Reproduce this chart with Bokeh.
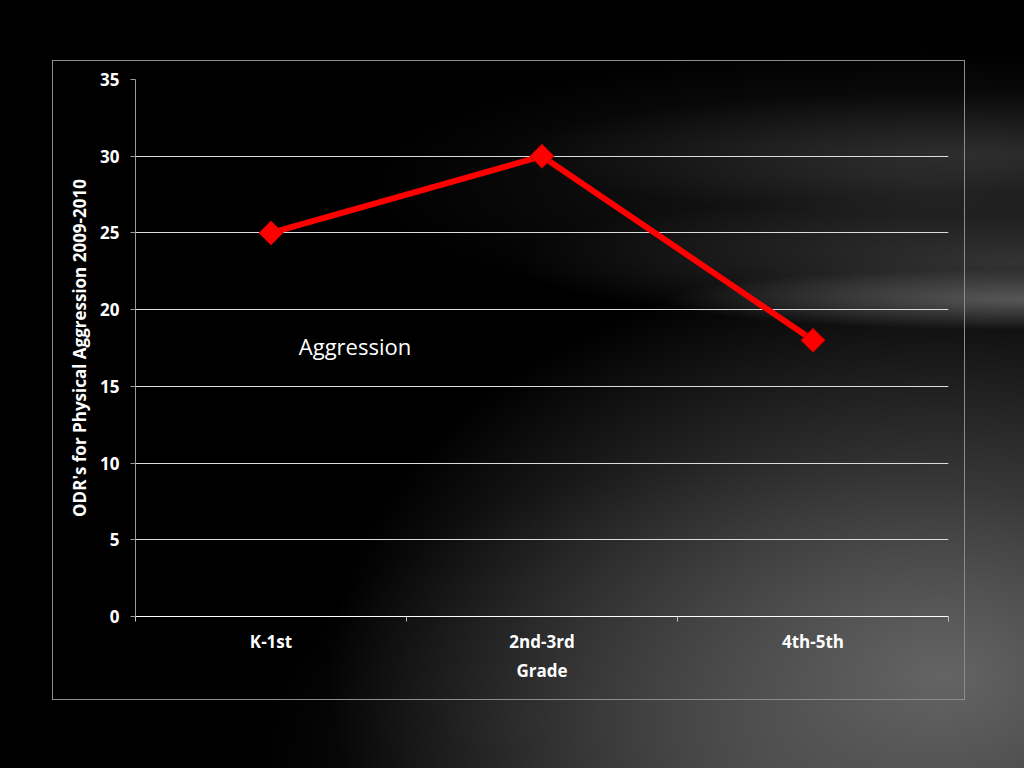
from bokeh.plotting import figure
from bokeh.models import Range1d, FixedTicker, Label
from bokeh.embed import file_html
from bokeh.resources import INLINE
import math

# ---- data ----
grades = ["K-1st", "2nd-3rd", "4th-5th"]
odr_values = [25, 30, 18]
y_ticks = [0, 5, 10, 15, 20, 25, 30, 35]
series_name = "Aggression"
x_title = "Grade"
y_title = "ODR's for Physical Aggression 2009-2010"

xs = [i + 0.5 for i in range(len(grades))]

FONT = "Open Sans"
FS = "17px"

frame_col = "#8c8c8c"
bg = ", ".join([
    # outer chart frame (decorative border lines)
    f"linear-gradient({frame_col},{frame_col}) 52px 60px / 913px 1px no-repeat",
    f"linear-gradient({frame_col},{frame_col}) 52px 699px / 913px 1px no-repeat",
    f"linear-gradient({frame_col},{frame_col}) 52px 60px / 1px 640px no-repeat",
    f"linear-gradient({frame_col},{frame_col}) 964px 60px / 1px 640px no-repeat",
    # background streaks
    "radial-gradient(ellipse 35% 4% at 100% 39%, rgba(190,190,190,0.35), rgba(0,0,0,0))",
    "radial-gradient(ellipse 50% 9% at 100% 34%, rgba(140,140,140,0.3), rgba(0,0,0,0))",
    "radial-gradient(ellipse 45% 8% at 95% 20%, rgba(120,120,120,0.25), rgba(0,0,0,0))",
    "radial-gradient(ellipse 55% 18% at 90% 24%, rgba(90,90,90,0.3), rgba(0,0,0,0))",
    "radial-gradient(ellipse 60% 55% at 92% 88%, rgba(100,100,100,1), rgba(0,0,0,0))",
    "radial-gradient(ellipse 50% 40% at 75% 100%, rgba(40,40,40,1), rgba(0,0,0,0))",
    "#000",
])

p = figure(
    width=1024, height=768,
    x_range=Range1d(0, len(grades)), y_range=Range1d(0, 35),
    output_backend="svg", toolbar_location=None,
    min_border_left=135, min_border_right=76, min_border_top=79, min_border_bottom=152,
    styles={"position": "fixed", "left": "0px", "top": "0px", "background": bg},
)
p.background_fill_color = None
p.border_fill_color = None
p.outline_line_color = None

# grid
p.xgrid.visible = False
p.ygrid.grid_line_color = "#dcdcdc"
p.ygrid.grid_line_width = 1

# y axis
p.yaxis.ticker = FixedTicker(ticks=y_ticks)
p.yaxis.axis_line_color = "#9a9a9a"
p.yaxis.major_tick_line_color = "#9a9a9a"
p.yaxis.major_tick_out = 5
p.yaxis.major_tick_in = 0
p.yaxis.minor_tick_line_color = None
p.yaxis.major_label_text_color = "white"
p.yaxis.major_label_text_font = FONT
p.yaxis.major_label_text_font_style = "bold"
p.yaxis.major_label_text_font_size = FS
p.yaxis.major_label_standoff = 11
p.yaxis.axis_label = y_title
p.yaxis.axis_label_text_color = "white"
p.yaxis.axis_label_text_font = FONT
p.yaxis.axis_label_text_font_style = "bold"
p.yaxis.axis_label_text_font_size = FS
p.yaxis.axis_label_standoff = 6

# x axis
p.xaxis.ticker = FixedTicker(ticks=xs, minor_ticks=list(range(len(grades) + 1)))
p.xaxis.major_label_overrides = {x: g for x, g in zip(xs, grades)}
p.xaxis.axis_line_color = "white"
p.xaxis.major_tick_line_color = None
p.xaxis.major_tick_out = 0
p.xaxis.major_tick_in = 0
p.xaxis.minor_tick_line_color = "#bfbfbf"
p.xaxis.minor_tick_out = 5
p.xaxis.minor_tick_in = 0
p.xaxis.major_label_text_color = "white"
p.xaxis.major_label_text_font = FONT
p.xaxis.major_label_text_font_style = "bold"
p.xaxis.major_label_text_font_size = FS
p.xaxis.major_label_standoff = 8
p.xaxis.axis_label = x_title
p.xaxis.axis_label_text_color = "white"
p.xaxis.axis_label_text_font = FONT
p.xaxis.axis_label_text_font_style = "bold"
p.xaxis.axis_label_text_font_size = FS
p.xaxis.axis_label_standoff = 3

# series
p.line(xs, odr_values, line_color="#ff0000", line_width=6)
p.scatter(xs, odr_values, marker="square", size=17, angle=math.pi / 4,
          fill_color="#ff0000", line_color="#c00000", line_width=1)

# series name label
p.add_layout(Label(x=0.81, y=17.6, text=series_name, text_color="white",
                   text_font=FONT, text_font_size="22px",
                   text_align="center", text_baseline="middle"))

open("out.html", "w").write(file_html(p, INLINE))
